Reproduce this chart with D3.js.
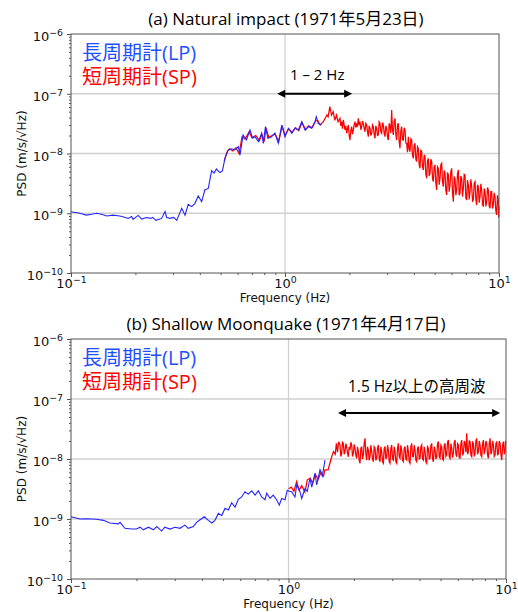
<!DOCTYPE html>
<html lang="ja">
<head>
<meta charset="UTF-8">
<title>PSD LP / SP</title>
<script src="https://d3js.org/d3.v7.min.js"></script>
<style>
  body { margin: 0; background: #fff; }
  svg { display: block; font-family: "DejaVu Sans", sans-serif; }
  .ttl, .leg, .note { font-family: "Open Sans", "Noto Sans CJK JP", sans-serif; }
</style>
</head>
<body>
<svg width="518" height="612"></svg>
<script>
// [frequency (Hz), PSD (m/s/√Hz)]

// (a) natural impact, long period
const lpA = [
  [0.100, 1.06e-9], [0.110, 1.00e-9], [0.118, 0.93e-9], [0.125, 0.96e-9], [0.132, 1.00e-9],
  [0.140, 0.95e-9], [0.147, 0.90e-9], [0.157, 0.93e-9], [0.169, 0.90e-9], [0.178, 0.86e-9],
  [0.185, 0.82e-9], [0.192, 0.88e-9], [0.195, 0.79e-9], [0.206, 0.92e-9], [0.214, 0.80e-9],
  [0.225, 0.85e-9], [0.236, 0.82e-9], [0.241, 0.85e-9], [0.249, 0.76e-9], [0.265, 0.82e-9],
  [0.275, 1.07e-9], [0.280, 0.85e-9], [0.290, 0.82e-9], [0.302, 0.85e-9], [0.312, 0.76e-9],
  [0.329, 1.21e-9], [0.341, 0.93e-9], [0.353, 1.41e-9], [0.366, 1.29e-9], [0.379, 1.45e-9],
  [0.393, 1.95e-9], [0.408, 1.57e-9], [0.422, 2.45e-9], [0.438, 2.60e-9], [0.454, 5.15e-9],
  [0.466, 4.70e-9], [0.478, 5.50e-9], [0.496, 4.80e-9], [0.510, 5.10e-9], [0.524, 8.30e-9],
  [0.543, 1.15e-8], [0.563, 1.20e-8], [0.583, 1.15e-8], [0.605, 1.30e-8], [0.616, 0.94e-8],
  [0.637, 2.04e-8], [0.661, 1.70e-8], [0.686, 2.47e-8], [0.706, 1.80e-8], [0.724, 1.91e-8],
  [0.751, 1.58e-8], [0.778, 2.19e-8], [0.792, 1.48e-8], [0.810, 2.83e-8], [0.832, 1.80e-8],
  [0.865, 1.91e-8], [0.897, 2.19e-8], [0.930, 1.48e-8], [0.966, 3.00e-8], [1.000, 1.91e-8],
  [1.037, 2.64e-8], [1.075, 2.19e-8], [1.113, 2.64e-8], [1.155, 2.47e-8], [1.197, 3.40e-8],
  [1.240, 2.47e-8], [1.285, 2.83e-8], [1.330, 2.64e-8], [1.380, 3.40e-8], [1.400, 4.13e-8],
  [1.430, 3.20e-8], [1.480, 3.00e-8]
];

// (a) natural impact, short period
const spA = [
  [0.520, 7.5e-9], [0.535, 1.05e-8], [0.550, 1.20e-8], [0.570, 1.10e-8], [0.590, 1.25e-8],
  [0.610, 1.00e-8], [0.630, 1.90e-8], [0.650, 1.75e-8], [0.680, 2.30e-8], [0.700, 1.85e-8],
  [0.730, 2.00e-8], [0.760, 1.65e-8], [0.780, 2.10e-8], [0.800, 1.60e-8], [0.815, 2.70e-8],
  [0.840, 1.85e-8], [0.870, 2.00e-8], [0.900, 2.10e-8], [0.935, 1.60e-8], [0.970, 2.90e-8],
  [1.00, 2.00e-8], [1.04, 2.60e-8], [1.08, 2.25e-8], [1.12, 2.70e-8], [1.16, 2.40e-8],
  [1.20, 3.30e-8], [1.25, 2.50e-8], [1.29, 2.90e-8], [1.34, 2.70e-8], [1.39, 3.50e-8],
  [1.42, 3.60e-8], [1.46, 3.00e-8], [1.51, 3.40e-8], [1.54, 3.90e-8], [1.57, 4.40e-8],
  [1.59, 4.10e-8], [1.62, 6.10e-8], [1.65, 4.40e-8], [1.68, 5.00e-8], [1.71, 3.60e-8],
  [1.74, 4.40e-8], [1.77, 3.40e-8],
  [1.807, 3.88e-8], [1.823, 2.9e-8], [1.840, 3.41e-8], [1.856, 2.6e-8], [1.873, 3.64e-8],
  [1.890, 3.0e-8], [1.907, 2.48e-8], [1.925, 2.9e-8], [1.942, 2.18e-8], [1.960, 2.6e-8],
  [1.977, 3.00e-8], [1.995, 2.0e-8], [2.012, 1.68e-8], [2.030, 2.4e-8], [2.049, 2.81e-8],
  [2.067, 2.1e-8], [2.086, 2.48e-8], [2.105, 3.0e-8], [2.124, 3.41e-8], [2.143, 2.7e-8],
  [2.162, 3.20e-8], [2.181, 2.8e-8], [2.201, 3.88e-8], [2.221, 3.0e-8], [2.241, 3.41e-8],
  [2.261, 2.5e-8], [2.282, 2.81e-8], [2.302, 3.5e-8], [2.323, 3.20e-8], [2.344, 2.6e-8],
  [2.365, 2.32e-8], [2.386, 3.2e-8], [2.408, 3.00e-8], [2.430, 2.3e-8], [2.451, 1.91e-8],
  [2.473, 2.9e-8], [2.496, 2.64e-8], [2.518, 2.0e-8], [2.541, 2.18e-8], [2.564, 3.0e-8],
  [2.587, 2.81e-8], [2.610, 2.1e-8], [2.634, 1.79e-8], [2.657, 2.9e-8], [2.681, 2.64e-8],
  [2.705, 2.0e-8], [2.730, 2.04e-8], [2.754, 3.4e-8], [2.779, 3.20e-8], [2.804, 2.3e-8],
  [2.830, 2.18e-8], [2.855, 3.3e-8], [2.881, 3.00e-8], [2.907, 2.2e-8], [2.933, 1.91e-8],
  [2.959, 2.9e-8], [2.986, 2.64e-8], [3.013, 1.9e-8], [3.040, 1.68e-8], [3.067, 3.2e-8],
  [3.095, 2.81e-8], [3.123, 2.2e-8], [3.151, 5.35e-8], [3.179, 2.5e-8], [3.208, 2.04e-8],
  [3.237, 3.5e-8], [3.266, 3.88e-8], [3.295, 2.1e-8], [3.325, 1.68e-8], [3.355, 3.0e-8],
  [3.385, 3.20e-8], [3.415, 1.6e-8], [3.446, 1.22e-8], [3.477, 2.4e-8], [3.509, 2.81e-8],
  [3.540, 1.7e-8], [3.572, 1.68e-8], [3.604, 2.7e-8], [3.637, 2.48e-8], [3.670, 1.5e-8],
  [3.703, 1.48e-8], [3.736, 1.05e-8], [3.770, 1.91e-8], [3.804, 1.2e-8], [3.838, 1.07e-8],
  [3.872, 1.75e-8], [3.907, 1.68e-8], [3.942, 9.5e-9], [3.978, 8.30e-9], [4.014, 1.35e-8],
  [4.050, 1.48e-8], [4.087, 8.0e-9], [4.124, 7.30e-9], [4.161, 1.3e-8], [4.198, 1.22e-8],
  [4.236, 6.5e-9], [4.274, 5.65e-9], [4.312, 1.15e-8], [4.351, 1.07e-8], [4.390, 6.0e-9],
  [4.430, 5.30e-9], [4.470, 9.5e-9], [4.510, 8.85e-9], [4.551, 4.5e-9], [4.592, 3.84e-9],
  [4.633, 7.5e-9], [4.675, 8.30e-9], [4.717, 4.2e-9], [4.760, 4.66e-9], [4.803, 8.0e-9],
  [4.846, 7.30e-9], [4.890, 3.8e-9], [4.934, 3.38e-9], [4.978, 6.0e-9], [5.023, 6.42e-9],
  [5.068, 3.2e-9], [5.114, 2.45e-9], [5.160, 6.0e-9], [5.207, 5.65e-9], [5.254, 3.0e-9],
  [5.301, 3.84e-9], [5.349, 6.5e-9], [5.397, 6.85e-9], [5.446, 3.3e-9], [5.495, 2.79e-9],
  [5.544, 5.2e-9], [5.594, 4.66e-9], [5.644, 2.4e-9], [5.695, 2.02e-9], [5.746, 4.8e-9],
  [5.798, 4.37e-9], [5.850, 2.3e-9], [5.903, 2.97e-9], [5.956, 5.0e-9], [6.010, 5.65e-9],
  [6.064, 2.2e-9], [6.119, 1.56e-9], [6.174, 4.0e-9], [6.229, 3.84e-9], [6.286, 2.0e-9],
  [6.343, 2.45e-9], [6.400, 4.6e-9], [6.457, 5.30e-9], [6.515, 2.0e-9], [6.574, 2.15e-9],
  [6.633, 4.2e-9], [6.693, 3.84e-9], [6.753, 1.9e-9], [6.814, 2.61e-9], [6.876, 4.5e-9],
  [6.938, 4.37e-9], [7.000, 1.8e-9], [7.063, 1.67e-9], [7.127, 3.6e-9], [7.191, 2.97e-9],
  [7.256, 1.7e-9], [7.321, 2.30e-9], [7.387, 3.7e-9], [7.454, 2.79e-9], [7.521, 1.6e-9],
  [7.589, 1.67e-9], [7.657, 3.2e-9], [7.726, 3.38e-9], [7.796, 1.7e-9], [7.866, 1.37e-9],
  [7.937, 3.0e-9], [8.008, 2.79e-9], [8.080, 1.5e-9], [8.153, 1.89e-9], [8.227, 3.1e-9],
  [8.301, 2.45e-9], [8.376, 1.4e-9], [8.451, 1.29e-9], [8.527, 2.6e-9], [8.604, 2.30e-9],
  [8.682, 1.3e-9], [8.760, 1.56e-9], [8.839, 2.7e-9], [8.918, 2.45e-9], [8.999, 1.3e-9],
  [9.080, 1.21e-9], [9.162, 2.3e-9], [9.244, 2.30e-9], [9.326, 1.2e-9], [9.408, 1.37e-9],
  [9.494, 2.2e-9], [9.580, 1.89e-9], [9.665, 1.1e-9], [9.750, 0.94e-9], [9.840, 2.0e-9],
  [9.930, 1.67e-9], [9.965, 0.85e-9], [10.0, 1.29e-9]
];

// (b) shallow moonquake, long period
const lpB = [
  [0.100, 1.09e-9], [0.110, 1.00e-9], [0.118, 1.01e-9], [0.131, 0.99e-9], [0.141, 0.95e-9],
  [0.151, 0.86e-9], [0.165, 0.83e-9], [0.168, 0.88e-9], [0.177, 0.70e-9], [0.190, 0.68e-9],
  [0.200, 0.68e-9], [0.208, 0.73e-9], [0.215, 0.66e-9], [0.227, 0.73e-9], [0.239, 0.66e-9],
  [0.248, 0.75e-9], [0.261, 0.63e-9], [0.270, 0.73e-9], [0.285, 0.68e-9], [0.301, 0.73e-9],
  [0.317, 0.70e-9], [0.334, 0.79e-9], [0.346, 0.70e-9], [0.365, 0.75e-9], [0.378, 0.88e-9],
  [0.392, 0.97e-9], [0.410, 1.09e-9], [0.428, 0.95e-9], [0.444, 0.86e-9], [0.459, 0.95e-9],
  [0.476, 1.24e-9], [0.493, 1.14e-9], [0.511, 1.51e-9], [0.529, 1.41e-9], [0.548, 1.87e-9],
  [0.568, 1.58e-9], [0.588, 2.13e-9], [0.609, 2.33e-9], [0.631, 2.85e-9], [0.653, 2.60e-9],
  [0.677, 2.95e-9], [0.702, 2.50e-9], [0.726, 2.95e-9], [0.753, 2.33e-9], [0.780, 2.10e-9],
  [0.794, 2.70e-9], [0.822, 2.20e-9], [0.851, 2.50e-9], [0.882, 2.10e-9], [0.907, 1.70e-9],
  [0.930, 2.20e-9], [0.964, 2.10e-9], [0.987, 3.00e-9], [1.010, 2.90e-9], [1.034, 2.85e-9],
  [1.071, 2.33e-9], [1.091, 3.70e-9], [1.129, 2.85e-9], [1.150, 2.20e-9], [1.191, 3.20e-9],
  [1.220, 2.90e-9], [1.256, 4.80e-9], [1.279, 3.40e-9], [1.324, 5.80e-9], [1.348, 3.70e-9],
  [1.396, 6.60e-9], [1.430, 5.20e-9], [1.472, 9.60e-9]
];

// (b) shallow moonquake, short period
const spB = [
  [1.00, 3.2e-9], [1.03, 3.4e-9], [1.06, 2.9e-9], [1.09, 4.2e-9], [1.12, 3.0e-9],
  [1.15, 3.6e-9], [1.19, 2.8e-9], [1.22, 4.5e-9], [1.26, 4.8e-9], [1.29, 3.9e-9],
  [1.33, 5.5e-9], [1.37, 4.6e-9], [1.41, 6.0e-9], [1.45, 5.2e-9], [1.47, 6.6e-9],
  [1.52, 6.6e-9], [1.55, 8.5e-9], [1.58, 1.09e-8], [1.61, 1.33e-8], [1.64, 1.20e-8],
  [1.66, 1.82e-8], [1.68, 1.30e-8], [1.70, 1.94e-8],
  [1.725, 1.71e-8], [1.740, 1.1e-8], [1.756, 1.24e-8], [1.771, 1.9e-8], [1.787, 1.82e-8],
  [1.803, 1.2e-8], [1.819, 1.33e-8], [1.835, 1.8e-8], [1.851, 1.61e-8], [1.868, 1.25e-8],
  [1.884, 1.09e-8], [1.901, 1.6e-8], [1.918, 1.41e-8], [1.935, 1.9e-8], [1.952, 1.71e-8],
  [1.970, 1.1e-8], [1.987, 1.24e-8], [2.005, 1.75e-8], [2.022, 1.51e-8], [2.040, 1.15e-8],
  [2.058, 1.03e-8], [2.076, 1.6e-8], [2.095, 1.33e-8], [2.113, 0.95e-8], [2.132, 0.85e-8],
  [2.151, 1.5e-8], [2.170, 1.61e-8], [2.189, 1.0e-8], [2.209, 1.17e-8], [2.228, 1.8e-8],
  [2.248, 2.21e-8], [2.268, 1.2e-8], [2.288, 0.96e-8], [2.308, 1.6e-8], [2.329, 1.41e-8],
  [2.349, 0.95e-8], [2.370, 1.09e-8], [2.391, 1.7e-8], [2.413, 1.33e-8], [2.434, 1.0e-8],
  [2.455, 0.90e-8], [2.477, 1.6e-8], [2.499, 1.51e-8], [2.522, 0.95e-8], [2.544, 1.03e-8],
  [2.566, 1.5e-8], [2.589, 1.71e-8], [2.612, 1.0e-8], [2.635, 0.90e-8], [2.658, 1.6e-8],
  [2.682, 1.33e-8], [2.706, 0.9e-8], [2.730, 0.85e-8], [2.754, 1.5e-8], [2.778, 1.61e-8],
  [2.803, 1.0e-8], [2.828, 1.09e-8], [2.853, 1.7e-8], [2.878, 1.41e-8], [2.904, 0.9e-8],
  [2.929, 0.85e-8], [2.955, 1.5e-8], [2.982, 1.71e-8], [3.008, 1.0e-8], [3.035, 0.96e-8],
  [3.062, 1.6e-8], [3.089, 1.33e-8], [3.116, 0.9e-8], [3.144, 0.85e-8], [3.172, 1.5e-8],
  [3.200, 1.82e-8], [3.228, 1.1e-8], [3.257, 1.03e-8], [3.286, 1.7e-8], [3.315, 1.41e-8],
  [3.344, 0.95e-8], [3.374, 0.90e-8], [3.404, 1.5e-8], [3.434, 1.61e-8], [3.464, 1.0e-8],
  [3.495, 0.96e-8], [3.526, 1.7e-8], [3.557, 1.33e-8], [3.589, 0.9e-8], [3.621, 0.85e-8],
  [3.653, 1.6e-8], [3.685, 1.82e-8], [3.718, 1.1e-8], [3.751, 1.09e-8], [3.784, 1.7e-8],
  [3.818, 1.41e-8], [3.852, 0.95e-8], [3.886, 0.90e-8], [3.920, 1.5e-8], [3.955, 1.61e-8],
  [3.990, 1.0e-8], [4.025, 1.03e-8], [4.061, 1.6e-8], [4.097, 1.71e-8], [4.133, 1.0e-8],
  [4.170, 0.96e-8], [4.207, 1.6e-8], [4.244, 1.33e-8], [4.282, 0.9e-8], [4.320, 0.85e-8],
  [4.358, 1.6e-8], [4.397, 1.51e-8], [4.436, 1.0e-8], [4.475, 1.03e-8], [4.515, 1.7e-8],
  [4.555, 1.82e-8], [4.595, 1.0e-8], [4.636, 0.90e-8], [4.677, 1.6e-8], [4.718, 1.41e-8],
  [4.760, 1.0e-8], [4.802, 1.09e-8], [4.845, 1.8e-8], [4.888, 1.95e-8], [4.931, 1.1e-8],
  [4.975, 1.03e-8], [5.019, 1.7e-8], [5.064, 1.61e-8], [5.109, 1.0e-8], [5.154, 0.96e-8],
  [5.200, 1.7e-8], [5.246, 1.82e-8], [5.292, 1.1e-8], [5.339, 1.17e-8], [5.386, 1.9e-8],
  [5.434, 2.07e-8], [5.482, 1.1e-8], [5.531, 1.03e-8], [5.580, 1.8e-8], [5.629, 1.51e-8],
  [5.679, 1.05e-8], [5.730, 1.24e-8], [5.781, 1.9e-8], [5.832, 2.07e-8], [5.884, 1.2e-8],
  [5.936, 1.09e-8], [5.988, 1.8e-8], [6.041, 1.71e-8], [6.095, 1.05e-8], [6.149, 1.03e-8],
  [6.203, 1.8e-8], [6.258, 2.07e-8], [6.314, 1.15e-8], [6.370, 1.24e-8], [6.426, 2.0e-8],
  [6.483, 1.82e-8], [6.541, 1.3e-8], [6.599, 2.68e-8], [6.657, 1.2e-8], [6.716, 1.33e-8],
  [6.776, 2.0e-8], [6.836, 1.95e-8], [6.897, 1.15e-8], [6.958, 1.09e-8], [7.020, 1.9e-8],
  [7.082, 1.82e-8], [7.145, 1.1e-8], [7.208, 1.24e-8], [7.272, 2.0e-8], [7.336, 2.21e-8],
  [7.401, 1.2e-8], [7.467, 1.33e-8], [7.533, 2.0e-8], [7.600, 1.71e-8], [7.667, 1.15e-8],
  [7.735, 1.09e-8], [7.804, 1.8e-8], [7.873, 2.07e-8], [7.943, 1.2e-8], [8.013, 1.41e-8],
  [8.084, 2.0e-8], [8.156, 1.82e-8], [8.228, 1.15e-8], [8.301, 1.03e-8], [8.375, 1.8e-8],
  [8.449, 2.21e-8], [8.524, 1.2e-8], [8.599, 1.33e-8], [8.675, 2.0e-8], [8.752, 1.71e-8],
  [8.830, 1.1e-8], [8.908, 1.17e-8], [8.987, 1.8e-8], [9.067, 1.95e-8], [9.147, 1.15e-8],
  [9.228, 1.24e-8], [9.310, 2.0e-8], [9.393, 1.82e-8], [9.476, 1.2e-8], [9.560, 0.96e-8],
  [9.645, 1.7e-8], [9.730, 1.95e-8], [9.817, 1.2e-8], [9.904, 1.33e-8], [9.940, 2.0e-8],
  [9.970, 1.82e-8]
];

const xTicks = [0.1, 1, 10];
const yTicks = [1e-10, 1e-9, 1e-8, 1e-7, 1e-6];
const legendLabels = ["長周期計(LP)", "短周期計(SP)"];
const titles = ["(a) Natural impact (1971年5月23日)", "(b) Shallow Moonquake (1971年4月17日)"];
const notes = ["1 – 2 Hz", "1.5 Hz以上の高周波"];
const arrowA = [0.92, 2.06, 1e-7];   // from, to (Hz), level
const arrowB = [1.69, 9.4, 5.85e-8];

const svg = d3.select("svg");

const panels = [
  { title: titles[0], lp: lpA, sp: spA, note: notes[0], arrow: arrowA, noteSize: 15,
    left: 71, right: 499, top: 34, bottom: 273, titleY: 25, legY: 60, noteX: 290, noteY: 80 },
  { title: titles[1], lp: lpB, sp: spB, note: notes[1], arrow: arrowB, noteSize: 15.5,
    left: 71, right: 506, top: 339, bottom: 579, titleY: 330, legY: 365, noteX: 348, noteY: 392 }
];

function pow10(sel) {
  sel.text(null).each(function (d) {
    const e = Math.round(Math.log10(d));
    const t = d3.select(this);
    t.append("tspan").text("10");
    t.append("tspan").attr("dy", "-0.55em").attr("font-size", "0.72em")
      .text(e < 0 ? "\u2212" + (-e) : e);
  });
}

function drawPanel(p) {
  const x = d3.scaleLog().domain([0.1, 10]).range([p.left, p.right]);
  const y = d3.scaleLog().domain([1e-10, 1e-6]).range([p.bottom, p.top]);
  const g = svg.append("g");

  // grid at major ticks
  g.append("g").selectAll("line").data(xTicks.slice(1, -1)).join("line")
    .attr("x1", d => x(d)).attr("x2", d => x(d))
    .attr("y1", p.top).attr("y2", p.bottom)
    .attr("stroke", "#d0d0d0").attr("stroke-width", 1.3);
  g.append("g").selectAll("line").data(yTicks.slice(1, -1)).join("line")
    .attr("x1", p.left).attr("x2", p.right)
    .attr("y1", d => y(d)).attr("y2", d => y(d))
    .attr("stroke", "#d0d0d0").attr("stroke-width", 1.3);

  const line = d3.line().x(d => x(d[0])).y(d => y(d[1]));
  g.append("path").datum(p.sp).attr("d", line)
    .attr("fill", "none").attr("stroke", "#ff0000").attr("stroke-width", 1.25);
  g.append("path").datum(p.lp).attr("d", line)
    .attr("fill", "none").attr("stroke", "#2424ff").attr("stroke-width", 1.1);

  // frame
  g.append("rect").attr("x", p.left).attr("y", p.top)
    .attr("width", p.right - p.left).attr("height", p.bottom - p.top)
    .attr("fill", "none").attr("stroke", "#555").attr("stroke-width", 1);

  // minor ticks
  const xMinor = x.ticks().filter(d => !xTicks.some(t => Math.abs(t - d) / t < 1e-6));
  const yMinor = y.ticks().filter(d => !yTicks.some(t => Math.abs(t - d) / t < 1e-6));
  g.append("g").attr("transform", `translate(0,${p.bottom})`)
    .call(d3.axisBottom(x).tickValues(xMinor).tickSize(2).tickSizeOuter(0).tickFormat(""))
    .call(a => a.select(".domain").remove())
    .call(a => a.selectAll("line").attr("stroke", "#555"));
  g.append("g").attr("transform", `translate(${p.left},0)`)
    .call(d3.axisLeft(y).tickValues(yMinor).tickSize(2).tickSizeOuter(0).tickFormat(""))
    .call(a => a.select(".domain").remove())
    .call(a => a.selectAll("line").attr("stroke", "#555"));

  // major ticks and labels
  g.append("g").attr("transform", `translate(0,${p.bottom})`)
    .call(d3.axisBottom(x).tickValues(xTicks).tickSize(4).tickSizeOuter(0).tickPadding(4))
    .call(a => a.select(".domain").remove())
    .call(a => a.selectAll("line").attr("stroke", "#555"))
    .call(a => a.selectAll("text").attr("font-size", 13).attr("fill", "#111")
      .attr("font-family", "DejaVu Sans").attr("dy", "0.56em").call(pow10));
  g.append("g").attr("transform", `translate(${p.left},0)`)
    .call(d3.axisLeft(y).tickValues(yTicks).tickSize(4).tickSizeOuter(0).tickPadding(4))
    .call(a => a.select(".domain").remove())
    .call(a => a.selectAll("line").attr("stroke", "#555"))
    .call(a => a.selectAll("text").attr("font-size", 13).attr("fill", "#111")
      .attr("font-family", "DejaVu Sans").attr("dy", "0.5em").call(pow10));

  // axis titles
  g.append("text").attr("x", (p.left + p.right) / 2).attr("y", p.bottom + 29)
    .attr("text-anchor", "middle").attr("font-size", 12).attr("fill", "#111")
    .text("Frequency (Hz)");
  g.append("text")
    .attr("transform", `translate(26,${(p.top + p.bottom) / 2}) rotate(-90)`)
    .attr("text-anchor", "middle").attr("font-size", 12).attr("fill", "#111")
    .text("PSD (m/s/\u221AHz)");

  // panel title
  g.append("text").attr("class", "ttl").attr("x", 286).attr("y", p.titleY)
    .attr("text-anchor", "middle").attr("font-size", 17).attr("fill", "#000")
    .text(p.title);

  // legend block: two coloured lines
  const leg = g.append("text").attr("class", "leg").attr("x", 82).attr("y", p.legY)
    .attr("font-size", 20);
  leg.append("tspan").attr("x", 82).attr("fill", "#1f4fff").text(legendLabels[0]);
  leg.append("tspan").attr("x", 82).attr("dy", 24).attr("fill", "#ff0000").text(legendLabels[1]);

  // annotation with double arrow
  g.append("text").attr("class", "note").attr("x", p.noteX).attr("y", p.noteY)
    .attr("font-size", p.noteSize).attr("fill", "#000").text(p.note);
  const ax0 = x(p.arrow[0]), ax1 = x(p.arrow[1]), ay = y(p.arrow[2]);
  g.append("line").attr("x1", ax0 + 6).attr("x2", ax1 - 6).attr("y1", ay).attr("y2", ay)
    .attr("stroke", "#000").attr("stroke-width", 2);
  g.append("path")
    .attr("d", `M${ax0},${ay} l8,-4 l0,8 Z M${ax1},${ay} l-8,-4 l0,8 Z`)
    .attr("fill", "#000");
}

panels.forEach(drawPanel);
</script>
</body>
</html>
